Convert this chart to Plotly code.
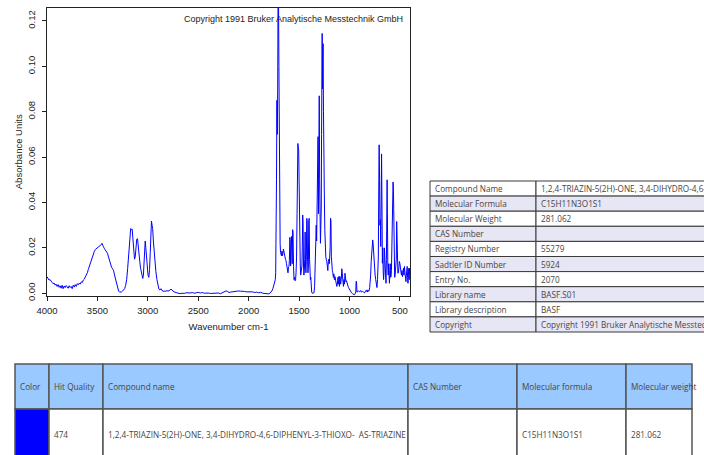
import plotly.graph_objects as go

W, H = 704, 455

# ---------------- spectrum data ----------------
wavenumber = [
    4000, 3990, 3980, 3970, 3960, 3950, 3940, 3930, 3920, 3910, 3900, 3890, 3880, 3870, 3860, 3850,
    3840, 3830, 3820, 3810, 3800, 3790, 3780, 3770, 3760, 3750, 3740, 3730, 3720, 3710, 3700, 3690,
    3680, 3670, 3660, 3650, 3640, 3630, 3620, 3610, 3600, 3590, 3580, 3570, 3560, 3550, 3540, 3530,
    3520, 3510, 3500, 3490, 3480, 3470, 3460, 3455, 3450, 3440, 3430, 3420, 3410, 3400, 3390, 3380,
    3370, 3360, 3350, 3340, 3330, 3320, 3310, 3300, 3290, 3280, 3270, 3260, 3250, 3240, 3230, 3220,
    3210, 3200, 3190, 3180, 3170, 3162, 3155, 3148, 3140, 3132, 3125, 3118, 3110, 3102, 3095, 3088,
    3080, 3072, 3065, 3058, 3050, 3044, 3038, 3032, 3026, 3020, 3012, 3005, 2998, 2990, 2983, 2976,
    2970, 2964, 2958, 2952, 2945, 2938, 2930, 2920, 2910, 2900, 2890, 2880, 2870, 2860, 2850, 2840,
    2830, 2820, 2810, 2800, 2790, 2780, 2770, 2760, 2750, 2740, 2720, 2700, 2680, 2660, 2640, 2620,
    2600, 2580, 2560, 2540, 2520, 2500, 2480, 2460, 2440, 2420, 2400, 2380, 2360, 2340, 2320, 2300,
    2280, 2260, 2240, 2225, 2210, 2195, 2180, 2160, 2140, 2120, 2100, 2080, 2060, 2040, 2020, 2000,
    1980, 1960, 1940, 1920, 1900, 1880, 1860, 1840, 1820, 1800, 1790, 1780, 1770, 1760, 1750, 1742,
    1736, 1732, 1728, 1724, 1720, 1716, 1712, 1708, 1704, 1700, 1696, 1692, 1688, 1684, 1680, 1675,
    1670, 1665, 1660, 1655, 1650, 1645, 1640, 1635, 1630, 1625, 1620, 1615, 1610, 1605, 1600, 1596,
    1592, 1588, 1584, 1580, 1576, 1572, 1568, 1564, 1560, 1555, 1550, 1545, 1540, 1535, 1530, 1525,
    1520, 1516, 1512, 1508, 1504, 1500, 1496, 1492, 1488, 1484, 1480, 1476, 1472, 1468, 1464, 1460,
    1456, 1452, 1448, 1444, 1440, 1436, 1432, 1428, 1424, 1420, 1416, 1412, 1408, 1404, 1400, 1396,
    1392, 1388, 1384, 1380, 1375, 1368, 1360, 1352, 1346, 1342, 1338, 1334, 1330, 1326, 1322, 1318,
    1315, 1312, 1308, 1304, 1300, 1296, 1292, 1288, 1284, 1280, 1277, 1274, 1271, 1268, 1265, 1262,
    1258, 1254, 1250, 1245, 1240, 1235, 1230, 1225, 1220, 1215, 1210, 1205, 1200, 1196, 1192, 1188,
    1184, 1180, 1176, 1170, 1165, 1160, 1155, 1150, 1144, 1138, 1132, 1126, 1120, 1114, 1110, 1104,
    1100, 1094, 1088, 1082, 1076, 1072, 1066, 1060, 1055, 1050, 1045, 1040, 1035, 1030, 1025, 1018,
    1010, 1000, 995, 990, 980, 970, 960, 952, 945, 938, 934, 930, 926, 920, 910, 900,
    890, 880, 870, 860, 852, 845, 838, 830, 826, 820, 812, 806, 800, 795, 790, 785,
    780, 775, 770, 766, 762, 758, 752, 746, 740, 734, 728, 722, 718, 714, 710, 706,
    702, 698, 694, 690, 686, 682, 678, 674, 670, 666, 662, 658, 654, 650, 646, 642,
    638, 634, 630, 627, 624, 620, 616, 612, 608, 604, 600, 596, 592, 588, 584, 580,
    576, 572, 568, 564, 560, 556, 552, 548, 544, 540, 536, 532, 528, 524, 520, 515,
    510, 505, 500, 495, 490, 485, 480, 475, 470, 465, 460, 455, 450, 445, 440, 436,
    432, 428, 424, 420, 416, 412, 408, 404, 400,
]
absorbance = [
    0.0073, 0.0065, 0.0058, 0.0060, 0.0050, 0.0048, 0.0042, 0.0045, 0.0036, 0.0040, 0.0030, 0.0038, 0.0026, 0.0033, 0.0022, 0.0035,
    0.0020, 0.0032, 0.0025, 0.0034, 0.0028, 0.0022, 0.0033, 0.0025, 0.0030, 0.0020, 0.0035, 0.0027, 0.0038, 0.0030, 0.0042, 0.0037,
    0.0045, 0.0040, 0.0050, 0.0047, 0.0058, 0.0062, 0.0072, 0.0080, 0.0090, 0.0105, 0.0120, 0.0135, 0.0150, 0.0163, 0.0175, 0.0185,
    0.0193, 0.0197, 0.0200, 0.0203, 0.0205, 0.0210, 0.0215, 0.0220, 0.0212, 0.0205, 0.0196, 0.0190, 0.0180, 0.0176, 0.0160, 0.0142,
    0.0128, 0.0115, 0.0108, 0.0100, 0.0080, 0.0060, 0.0040, 0.0022, 0.0010, 0.0005, 0.0004, 0.0006, 0.0010, 0.0014, 0.0020, 0.0035,
    0.0060, 0.0110, 0.0170, 0.0235, 0.0285, 0.0280, 0.0282, 0.0240, 0.0190, 0.0150, 0.0160, 0.0200, 0.0238, 0.0240, 0.0195, 0.0165,
    0.0140, 0.0110, 0.0090, 0.0075, 0.0065, 0.0080, 0.0140, 0.0215, 0.0230, 0.0200, 0.0160, 0.0095, 0.0080, 0.0070, 0.0105, 0.0180,
    0.0290, 0.0318, 0.0300, 0.0285, 0.0230, 0.0180, 0.0140, 0.0095, 0.0060, 0.0035, 0.0018, 0.0014, 0.0020, 0.0012, 0.0010, 0.0008,
    0.0010, 0.0008, 0.0012, 0.0009, 0.0011, 0.0013, 0.0018, 0.0014, 0.0008, 0.0006, 0.0003, 0.0001, -0.0002, 0.0000, -0.0001, 0.0002,
    0.0000, 0.0001, 0.0003, 0.0000, 0.0002, 0.0004, 0.0001, 0.0003, 0.0000, 0.0002, 0.0001, -0.0001, 0.0000, -0.0002, -0.0001, 0.0001,
    -0.0002, 0.0002, 0.0006, 0.0010, 0.0008, 0.0003, 0.0005, 0.0006, 0.0009, 0.0011, 0.0010, 0.0009, 0.0010, 0.0008, 0.0006, 0.0007,
    0.0005, 0.0006, 0.0003, 0.0005, 0.0002, 0.0004, 0.0000, -0.0002, -0.0004, -0.0003, 0.0000, 0.0004, 0.0010, 0.0020, 0.0035, 0.0045,
    0.0060, 0.0090, 0.0200, 0.0500, 0.0850, 0.0700, 0.0900, 0.1400, 0.1300, 0.1000, 0.0600, 0.0300, 0.0220, 0.0180, 0.0170, 0.0165,
    0.0186, 0.0165, 0.0175, 0.0195, 0.0175, 0.0165, 0.0160, 0.0150, 0.0145, 0.0130, 0.0120, 0.0100, 0.0090, 0.0115, 0.0119, 0.0145,
    0.0246, 0.0230, 0.0120, 0.0200, 0.0250, 0.0200, 0.0130, 0.0280, 0.0270, 0.0119, 0.0060, 0.0070, 0.0055, 0.0059, 0.0090, 0.0160,
    0.0350, 0.0540, 0.0660, 0.0640, 0.0630, 0.0500, 0.0200, 0.0300, 0.0120, 0.0080, 0.0100, 0.0090, 0.0120, 0.0200, 0.0345, 0.0300,
    0.0120, 0.0080, 0.0100, 0.0150, 0.0270, 0.0120, 0.0090, 0.0150, 0.0330, 0.0320, 0.0140, 0.0090, 0.0120, 0.0320, 0.0330, 0.0150,
    0.0080, 0.0060, 0.0070, 0.0030, 0.0005, 0.0000, 0.0000, 0.0002, 0.0030, 0.0120, 0.0220, 0.0160, 0.0300, 0.0230, 0.0370, 0.0300,
    0.0400, 0.0690, 0.0350, 0.0600, 0.0870, 0.0500, 0.0300, 0.0220, 0.0300, 0.0380, 0.0700, 0.0970, 0.1145, 0.0900, 0.1000, 0.1100,
    0.0800, 0.0700, 0.0450, 0.0280, 0.0180, 0.0160, 0.0147, 0.0140, 0.0120, 0.0100, 0.0140, 0.0150, 0.0130, 0.0160, 0.0200, 0.0330,
    0.0320, 0.0160, 0.0120, 0.0100, 0.0090, 0.0070, 0.0085, 0.0060, 0.0073, 0.0050, 0.0040, 0.0030, 0.0040, 0.0070, 0.0040, 0.0075,
    0.0030, 0.0073, 0.0040, 0.0060, 0.0108, 0.0090, 0.0050, 0.0030, 0.0060, 0.0040, 0.0088, 0.0060, 0.0050, 0.0055, 0.0040, 0.0036,
    0.0025, 0.0015, 0.0012, 0.0008, 0.0002, -0.0002, -0.0005, -0.0007, -0.0003, 0.0005, 0.0053, 0.0050, 0.0005, 0.0008, 0.0010, 0.0006,
    0.0012, 0.0005, 0.0009, 0.0004, 0.0001, 0.0006, 0.0012, 0.0008, 0.0015, 0.0005, 0.0012, 0.0010, 0.0025, 0.0042, 0.0080, 0.0140,
    0.0190, 0.0210, 0.0235, 0.0220, 0.0180, 0.0150, 0.0110, 0.0080, 0.0060, 0.0030, 0.0025, 0.0060, 0.0100, 0.0160, 0.0450, 0.0654,
    0.0500, 0.0300, 0.0324, 0.0206, 0.0400, 0.0614, 0.0400, 0.0132, 0.0200, 0.0100, 0.0060, 0.0090, 0.0200, 0.0130, 0.0070, 0.0100,
    0.0044, 0.0150, 0.0300, 0.0500, 0.0350, 0.0120, 0.0080, 0.0130, 0.0070, 0.0044, 0.0080, 0.0130, 0.0070, 0.0073, 0.0100, 0.0200,
    0.0470, 0.0400, 0.0490, 0.0450, 0.0200, 0.0088, 0.0070, 0.0080, 0.0103, 0.0090, 0.0150, 0.0316, 0.0250, 0.0100, 0.0088, 0.0090,
    0.0120, 0.0140, 0.0130, 0.0110, 0.0103, 0.0080, 0.0100, 0.0073, 0.0090, 0.0110, 0.0080, 0.0118, 0.0090, 0.0060, 0.0051, 0.0080,
    0.0100, 0.0118, 0.0070, 0.0044, 0.0080, 0.0110, 0.0060, 0.0110, 0.0090,
]

x_ticks = [4000, 3500, 3000, 2500, 2000, 1500, 1000, 500]
y_ticks = [0.00, 0.02, 0.04, 0.06, 0.08, 0.10, 0.12]

# ---------------- table data ----------------
info_labels = ["Compound Name", "Molecular Formula", "Molecular Weight", "CAS Number",
               "Registry Number", "Sadtler ID Number", "Entry No.", "Library name",
               "Library description", "Copyright"]
info_values = ["1,2,4-TRIAZIN-5(2H)-ONE, 3,4-DIHYDRO-4,6-DIPHENYL-3-THIOXO-  AS-TRIAZINE",
               "C15H11N3O1S1", "281.062", "", "55279", "5924", "2070", "BASF.S01", "BASF",
               "Copyright 1991 Bruker Analytische Messtechnik GmbH"]

hit_headers = ["Color", "Hit Quality", "Compound name", "CAS Number", "Molecular formula", "Molecular weight"]
hit_values = ["", "474", "1,2,4-TRIAZIN-5(2H)-ONE, 3,4-DIHYDRO-4,6-DIPHENYL-3-THIOXO-  AS-TRIAZINE",
              "", "C15H11N3O1S1", "281.062"]
hit_color = "#0000FF"

# ---------------- layout geometry (pixels) ----------------
PLOT_L, PLOT_R, PLOT_T, PLOT_B = 47, 410, 8, 295.5
INFO_X = [430, 536, 790]
INFO_TOP, INFO_ROW = 181, 15.1
HIT_X = [15, 49, 103, 408, 517, 626, 692]
HIT_TOP, HIT_HEAD, HIT_ROW = 364, 45, 52

TXT = "#4a4540"
TFONT = "Open Sans"
TSIZE = 8.2


def px(x):
    return x / W


def py(y):
    return 1 - y / H


fig = go.Figure()
fig.add_trace(go.Scatter(x=wavenumber, y=absorbance, mode="lines",
                         line=dict(color="#0000FF", width=1), hoverinfo="skip"))

shapes = []
annotations = []

# info table (right)
for i, (lab, val) in enumerate(zip(info_labels, info_values)):
    y0 = INFO_TOP + i * INFO_ROW
    y1 = y0 + INFO_ROW
    fill = "#E6E6F5" if i % 2 == 1 else "#FFFFFF"
    for c in range(2):
        shapes.append(dict(type="rect", xref="paper", yref="paper",
                           x0=px(INFO_X[c]), x1=px(INFO_X[c + 1]), y0=py(y1), y1=py(y0),
                           fillcolor=fill, line=dict(color="#3a3a3a", width=1), layer="below"))
    for c, t in enumerate([lab, val]):
        if t:
            annotations.append(dict(xref="paper", yref="paper", x=px(INFO_X[c] + 3), y=py((y0 + y1) / 2),
                                    xanchor="left", yanchor="middle", text=t, showarrow=False,
                                    font=dict(family=TFONT, size=TSIZE, color=TXT)))

# hit table (bottom)
rows = [(HIT_TOP, HIT_TOP + HIT_HEAD, hit_headers, True),
        (HIT_TOP + HIT_HEAD, HIT_TOP + HIT_HEAD + HIT_ROW, hit_values, False)]
for y0, y1, vals, is_head in rows:
    for c, t in enumerate(vals):
        if is_head:
            fill = "#99C9FF"
        else:
            fill = hit_color if c == 0 else "#FFFFFF"
        shapes.append(dict(type="rect", xref="paper", yref="paper",
                           x0=px(HIT_X[c]), x1=px(HIT_X[c + 1]), y0=py(y1), y1=py(y0),
                           fillcolor=fill, line=dict(color="#555555", width=1.5), layer="below"))
        if t:
            annotations.append(dict(xref="paper", yref="paper", x=px(HIT_X[c] + 3),
                                    y=py((y0 + y1) / 2 if is_head else y0 + 25),
                                    xanchor="left", yanchor="middle", text=t, showarrow=False,
                                    font=dict(family=TFONT, size=TSIZE, color=TXT)))

annotations.append(dict(xref="paper", yref="paper", x=px(405), y=py(19), xanchor="right", yanchor="middle",
                        text="Copyright 1991 Bruker Analytische Messtechnik GmbH", showarrow=False,
                        font=dict(family="Liberation Sans", size=9, color="#222222")))

axis_common = dict(showline=True, mirror=True, linecolor="#222222", linewidth=1, ticks="outside",
                   ticklen=4, tickcolor="#222222", showgrid=False, zeroline=False, automargin=False,
                   tickfont=dict(family="Liberation Sans", size=9.5, color="#222222"))

fig.update_layout(
    width=W, height=H, margin=dict(l=0, r=0, t=0, b=0, pad=0, autoexpand=False),
    paper_bgcolor="white", plot_bgcolor="white", showlegend=False,
    xaxis=dict(domain=[px(PLOT_L), px(PLOT_R)], range=[4000, 400], tickvals=x_ticks,
               ticklabelstandoff=2,
               title=dict(text="Wavenumber cm-1", standoff=8,
                          font=dict(family="Liberation Sans", size=9.5, color="#222222")),
               **axis_common),
    yaxis=dict(domain=[py(PLOT_B), py(PLOT_T)], range=[-0.001, 0.1257], tickvals=y_ticks,
               tickformat=".2f", tickangle=-90, ticklabelstandoff=3,
               title=dict(text="Absorbance Units", standoff=1,
                          font=dict(family="Liberation Sans", size=9.5, color="#222222")),
               **axis_common),
    shapes=shapes, annotations=annotations,
)

fig.write_html("out.html")
